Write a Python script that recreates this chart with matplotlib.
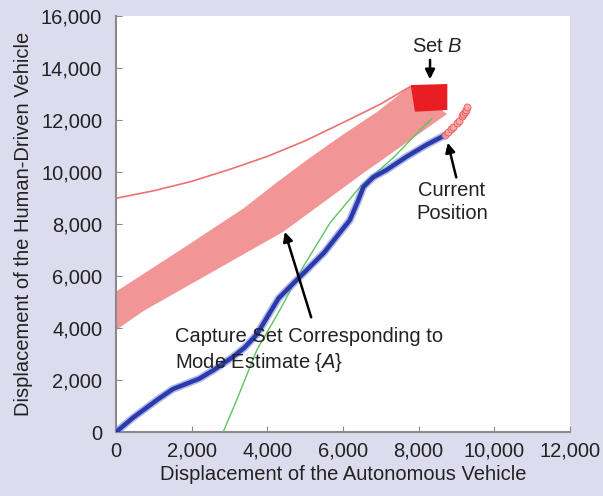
import matplotlib
matplotlib.use("Agg")
import matplotlib.pyplot as plt
from matplotlib.ticker import FuncFormatter

plt.rcParams['font.family'] = ['Liberation Sans', 'DejaVu Sans']
plt.rcParams['mathtext.fontset'] = 'custom'
plt.rcParams['mathtext.rm'] = 'Liberation Sans'
plt.rcParams['mathtext.it'] = 'Liberation Sans:italic'

# autonomous vehicle trajectory (blue)
blue_x = [0, 450, 1100, 1500, 2200, 2600, 3100, 3400, 3720, 4070, 4300, 4600, 5130, 5500,
          5830, 6180, 6400, 6540, 6800, 7150, 7680, 8210, 8700]
blue_y = [0, 550, 1250, 1650, 2050, 2400, 2900, 3250, 3750, 4600, 5150, 5590, 6360, 6900,
          7510, 8150, 8900, 9430, 9800, 10080, 10590, 11050, 11420]

# current position (red circles)
cur_x = [8700, 8780, 8850, 8900, 9010, 9060, 9150, 9180, 9220, 9250, 9280]
cur_y = [11420, 11530, 11650, 11720, 11880, 11980, 12150, 12220, 12300, 12400, 12500]

# green curve
green_x = [2830, 3190, 3720, 4330, 4950, 5660, 6450, 7330, 8120, 8350]
green_y = [0, 1230, 3150, 4690, 6360, 8050, 9430, 10550, 11740, 12050]

# thin red boundary line
red_x = [0, 1000, 2000, 3000, 4000, 5000, 6000, 7000, 7770]
red_y = [8990, 9280, 9640, 10100, 10600, 11200, 11900, 12620, 13280]

# capture set band (lower edge, then upper edge back)
band_lo_x = [0, 720, 4420, 6540, 8750]
band_lo_y = [3920, 4650, 7700, 9960, 12230]
band_hi_x = [7770, 6890, 6010, 5130, 4250, 3370, 1700, 0]
band_hi_y = [13300, 12300, 11450, 10550, 9600, 8600, 7000, 5400]

# set B
setb_x = [7790, 8757, 8757, 7900]
setb_y = [13345, 13385, 12385, 12320]

bg = '#dddcee'
fig = plt.figure(figsize=(6.03, 4.96), dpi=100, facecolor=bg)
ax = fig.add_axes([0.1924, 0.129, 0.7529, 0.8387])
ax.set_facecolor('white')

ax.fill(band_lo_x + band_hi_x, band_lo_y + band_hi_y, color='#f29596', lw=0, zorder=1)
ax.fill(setb_x, setb_y, color='#e81e22', lw=0, zorder=2)
ax.plot(red_x, red_y, color='#f07070', lw=1.2, zorder=2)
ax.plot(green_x, green_y, color='#5cc65c', lw=1.0, zorder=3)
ax.plot(blue_x, blue_y, color='#7080d8', lw=5.5, alpha=0.55, solid_capstyle='round', zorder=4)
ax.plot(blue_x, blue_y, color='#2a3aaa', lw=3.2, solid_capstyle='round', zorder=5)
ax.plot(cur_x, cur_y, 'o', ms=5, mfc='#f6a8a8', mec='#ee5050', mew=0.7, alpha=0.85, zorder=5)

ax.set_xlim(0, 12000)
ax.set_ylim(0, 16000)
ax.set_xticks(range(0, 12001, 2000))
ax.set_yticks(range(0, 16001, 2000))
fmt = FuncFormatter(lambda v, p: f'{int(v):,}')
ax.xaxis.set_major_formatter(fmt)
ax.yaxis.set_major_formatter(fmt)

for s in ['top', 'right']:
    ax.spines[s].set_visible(False)
for s in ['left', 'bottom']:
    ax.spines[s].set_color('#8a8a8a')
    ax.spines[s].set_linewidth(1.5)
ax.tick_params(direction='in', length=4, color='#8a8a8a', labelsize=14.5, labelcolor='#222222')
ax.tick_params(axis='y', pad=10)
ax.tick_params(axis='x', pad=7)

ax.set_xlabel('Displacement of the Autonomous Vehicle', fontsize=14.5, color='#222222', labelpad=3)
ax.set_ylabel('Displacement of the Human-Driven Vehicle', fontsize=14.5, color='#222222', labelpad=6)

arrow = dict(arrowstyle='-|>', color='black', lw=1.8, mutation_scale=14)
ax.annotate('', xy=(8300, 13460), xytext=(8300, 14420), arrowprops=arrow, zorder=6)
ax.text(8480, 14810, 'Set $\\mathit{B}$', fontsize=14.5, ha='center', va='center', color='#222222')

ax.annotate('', xy=(8750, 11230), xytext=(9010, 9690), arrowprops=arrow, zorder=6)
ax.text(8880, 8850, 'Current\nPosition', fontsize=14.5, ha='center', va='center',
        color='#222222', linespacing=1.3)

ax.annotate('', xy=(4440, 7800), xytext=(5180, 4310), arrowprops=arrow, zorder=6)
ax.text(1560, 3150, 'Capture Set Corresponding to\nMode Estimate {$\\mathit{A}$}', fontsize=14.5,
        ha='left', va='center', color='#222222', linespacing=1.3, zorder=7)

fig.savefig('out.png', dpi=100, facecolor=bg)
